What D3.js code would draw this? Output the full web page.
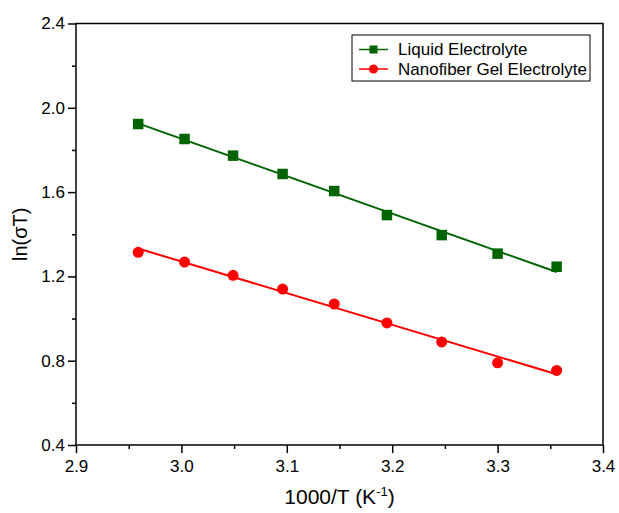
<!DOCTYPE html>
<html>
<head>
<meta charset="utf-8">
<script src="https://cdn.jsdelivr.net/npm/d3@7"></script>
<style>
  body { margin: 0; background: #fff; }
  svg { font-family: Arial, "Liberation Sans", sans-serif; }
</style>
</head>
<body>
<div id="chart"></div>
<script>
// 1000/T values (K^-1)
var invT = [2.959, 3.003, 3.049, 3.096, 3.145, 3.195, 3.247, 3.300, 3.356]
var liquid = [1.923, 1.852, 1.773, 1.686, 1.605, 1.491, 1.396, 1.308, 1.246]
var nanofiber = [1.314, 1.268, 1.205, 1.140, 1.069, 0.979, 0.889, 0.790, 0.754]
var seriesNames = ['Liquid Electrolyte', 'Nanofiber Gel Electrolyte']
var xTicks = [2.9, 3.0, 3.1, 3.2, 3.3, 3.4]
var yTicks = [0.4, 0.8, 1.2, 1.6, 2.0, 2.4]

function drawChart () {
  var w = 619, h = 513
  var mLeft = 76, mRight = 603, mTop = 23.5, mBottom = 445

  var svg = d3.select('#chart').append('svg')
      .attr('width', w)
      .attr('height', h)

  var x = d3.scaleLinear().domain([2.9, 3.4]).range([mLeft, mRight])
  var y = d3.scaleLinear().domain([0.4, 2.4]).range([mBottom, mTop])

  // least squares fit for the line through each series
  function fit (ys) {
    var mx = d3.mean(invT), my = d3.mean(ys)
    var sxy = d3.sum(invT, function (v, i) { return (v - mx) * (ys[i] - my) })
    var sxx = d3.sum(invT, function (v) { return (v - mx) * (v - mx) })
    var b = sxy / sxx
    return function (v) { return my + b * (v - mx) }
  }

  var series = [
    { name: seriesNames[0], values: liquid, color: '#006400', shape: 'square' },
    { name: seriesNames[1], values: nanofiber, color: '#ff0000', shape: 'circle' }
  ]

  // frame
  svg.append('rect')
      .attr('x', mLeft).attr('y', mTop)
      .attr('width', mRight - mLeft).attr('height', mBottom - mTop)
      .attr('fill', 'none').attr('stroke', '#000').attr('stroke-width', 1.5)

  // x axis
  var xAxis = d3.axisBottom(x).tickValues(xTicks).tickSize(8).tickFormat(d3.format('.1f'))
  var gx = svg.append('g').attr('transform', 'translate(0,' + mBottom + ')').call(xAxis)
  var xMinor = d3.axisBottom(x).tickValues([2.95, 3.05, 3.15, 3.25, 3.35]).tickSize(4).tickFormat('')
  svg.append('g').attr('transform', 'translate(0,' + mBottom + ')').call(xMinor)

  // y axis
  var yAxis = d3.axisLeft(y).tickValues(yTicks).tickSize(8).tickFormat(d3.format('.1f'))
  svg.append('g').attr('transform', 'translate(' + mLeft + ',0)').call(yAxis)
  var yMinor = d3.axisLeft(y).tickValues([0.6, 1.0, 1.4, 1.8, 2.2]).tickSize(4).tickFormat('')
  svg.append('g').attr('transform', 'translate(' + mLeft + ',0)').call(yMinor)

  svg.selectAll('.domain').remove()
  svg.selectAll('.tick line').attr('stroke', '#000').attr('stroke-width', 1.5)
  svg.selectAll('.tick text').attr('font-size', 17).attr('fill', '#000')
      .attr('font-family', 'Arial, "Liberation Sans", sans-serif')
  gx.selectAll('.tick text').attr('dy', '0.95em')

  // axis titles
  var xt = svg.append('text')
      .attr('x', (mLeft + mRight) / 2).attr('y', 504)
      .attr('text-anchor', 'middle').attr('font-size', 21)
  xt.append('tspan').text('1000/T (K')
  xt.append('tspan').text('-1').attr('font-size', 13).attr('dy', -8)
  xt.append('tspan').text(')').attr('dy', 8)

  svg.append('text')
      .attr('transform', 'translate(27,' + ((mTop + mBottom) / 2) + ') rotate(-90)')
      .attr('text-anchor', 'middle').attr('font-size', 20)
      .text('ln(σT)')

  function drawMarker (g, shape, color, cx, cy, size) {
    if (shape === 'square') {
      g.append('rect')
          .attr('x', cx - size / 2).attr('y', cy - size / 2)
          .attr('width', size).attr('height', size)
          .attr('fill', color)
    } else {
      g.append('circle')
          .attr('cx', cx).attr('cy', cy).attr('r', size / 2)
          .attr('fill', color)
    }
  }

  series.forEach(function (s) {
    var f = fit(s.values)
    var x0 = invT[0], x1 = invT[invT.length - 1]
    svg.append('line')
        .attr('x1', x(x0)).attr('y1', y(f(x0)))
        .attr('x2', x(x1)).attr('y2', y(f(x1)))
        .attr('stroke', s.color).attr('stroke-width', 2)
    var g = svg.append('g')
    s.values.forEach(function (v, i) {
      drawMarker(g, s.shape, s.color, x(invT[i]), y(v), s.shape === 'square' ? 10.5 : 11)
    })
  })

  // legend
  var lg = svg.append('g')
  lg.append('rect')
      .attr('x', 352).attr('y', 35)
      .attr('width', 238).attr('height', 46)
      .attr('fill', '#fff').attr('stroke', '#000').attr('stroke-width', 1)
  series.forEach(function (s, i) {
    var ly = 49.5 + i * 19.5
    lg.append('line')
        .attr('x1', 359).attr('x2', 388).attr('y1', ly).attr('y2', ly)
        .attr('stroke', s.color).attr('stroke-width', 1.5)
    drawMarker(lg, s.shape, s.color, 373.5, ly, s.shape === 'square' ? 8 : 9)
    lg.append('text')
        .attr('x', 398).attr('y', ly).attr('dy', '0.35em')
        .attr('font-size', 17)
        .text(s.name)
  })
}

drawChart()
</script>
</body>
</html>
